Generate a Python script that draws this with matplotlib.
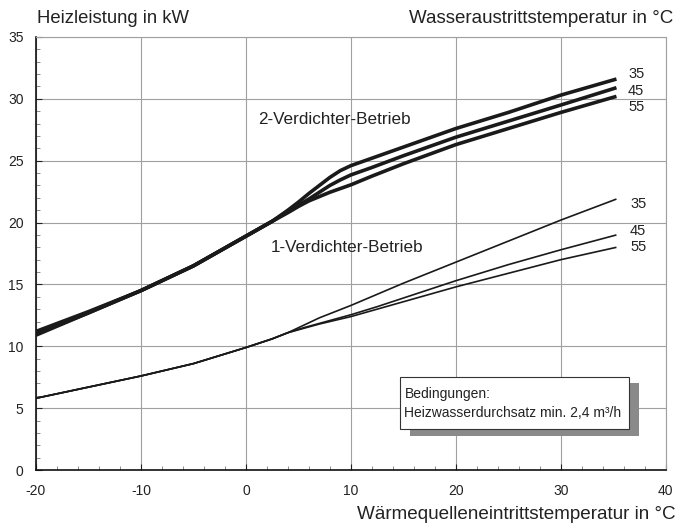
from matplotlib import pyplot as plt
from matplotlib.patches import Rectangle
from matplotlib.ticker import MultipleLocator

# Wasseraustrittstemperatur 35 / 45 / 55 °C
temps = ["35", "45", "55"]

# 2-Verdichter-Betrieb
x_two = [-20, -15, -10, -5, 0, 2.5, 4, 5, 6, 7, 8, 9, 10, 11, 12, 15, 20, 25, 30, 35.3]
two_35 = [11.2, 12.8, 14.5, 16.5, 18.9, 20.1, 21.0, 21.65, 22.35, 23.0, 23.65, 24.2, 24.6, 24.9, 25.2, 26.1, 27.6, 28.9, 30.3, 31.6]
two_45 = [11.0, 12.7, 14.5, 16.5, 18.9, 20.1, 20.9, 21.4, 21.9, 22.45, 23.0, 23.45, 23.85, 24.15, 24.45, 25.4, 26.9, 28.2, 29.5, 30.9]
two_55 = [10.9, 12.7, 14.5, 16.5, 18.9, 20.1, 20.8, 21.3, 21.75, 22.1, 22.45, 22.75, 23.05, 23.4, 23.75, 24.75, 26.3, 27.6, 28.9, 30.2]

# 1-Verdichter-Betrieb
x_one = [-20, -15, -10, -5, 0, 2.5, 4, 5.5, 7, 8.5, 10, 12.5, 15, 20, 25, 30, 35.3]
one_35 = [5.8, 6.7, 7.6, 8.6, 9.9, 10.6, 11.1, 11.7, 12.3, 12.8, 13.3, 14.2, 15.1, 16.8, 18.5, 20.2, 21.9]
one_45 = [5.8, 6.7, 7.6, 8.6, 9.9, 10.6, 11.1, 11.5, 11.85, 12.2, 12.55, 13.2, 13.9, 15.3, 16.6, 17.8, 19.0]
one_55 = [5.8, 6.7, 7.6, 8.6, 9.9, 10.6, 11.1, 11.45, 11.8, 12.1, 12.4, 13.0, 13.6, 14.8, 15.9, 17.0, 18.0]

plt.rcParams['font.family'] = ['Liberation Sans', 'DejaVu Sans']
plt.rcParams['axes.unicode_minus'] = False

fig = plt.figure(figsize=(6.78, 5.32), dpi=100)
ax = fig.add_axes([0.053, 0.1165, 0.929, 0.814])

for y in (two_35, two_45, two_55):
    ax.plot(x_two, y, color='#1a1a1a', lw=2.6, solid_capstyle='butt', solid_joinstyle='round', zorder=3)
for y in (one_35, one_45, one_55):
    ax.plot(x_one, y, color='#1a1a1a', lw=1.2, solid_capstyle='butt', solid_joinstyle='round', zorder=3)

ax.set_xlim(-20, 40)
ax.set_ylim(0, 35)
ax.xaxis.set_major_locator(MultipleLocator(10))
ax.xaxis.set_minor_locator(MultipleLocator(2))
ax.yaxis.set_major_locator(MultipleLocator(5))
ax.yaxis.set_minor_locator(MultipleLocator(1))
ax.tick_params(which='both', direction='in', labelsize=10, colors='#222222')
ax.tick_params(which='major', length=4)
ax.tick_params(which='minor', length=3, color='#777777')
ax.tick_params(axis='x', pad=10)
ax.tick_params(axis='y', pad=9)
ax.grid(True, which='major', color='#a0a0a0', lw=0.8, zorder=0)
ax.spines['top'].set_color('#a0a0a0')
ax.spines['right'].set_color('#a0a0a0')
ax.spines['left'].set_color('#111111')
ax.spines['bottom'].set_color('#111111')
ax.spines['left'].set_linewidth(1.2)
ax.spines['bottom'].set_linewidth(1.2)

# Kurvenbeschriftungen
for t, yl in zip(temps, [32.0, 30.6, 29.3]):
    ax.text(36.4, yl, t, fontsize=10.5, va='center', color='#222222')
for t, yl in zip(temps, [21.5, 19.3, 18.0]):
    ax.text(36.6, yl, t, fontsize=10.5, va='center', color='#222222')

ax.text(1.2, 28.3, "2-Verdichter-Betrieb", fontsize=12.3, va='center', color='#222222')
ax.text(2.4, 18.0, "1-Verdichter-Betrieb", fontsize=12.3, va='center', color='#222222')

# Kasten mit Schatten
ax.add_patch(Rectangle((15.6, 2.75), 21.8, 4.3, facecolor='#8a8a8a', edgecolor='none', zorder=4))
ax.add_patch(Rectangle((14.7, 3.3), 21.8, 4.2, facecolor='white', edgecolor='#333333', lw=0.8, zorder=5))
ax.text(15.1, 6.15, "Bedingungen:", fontsize=10, va='center', color='#222222', zorder=6)
ax.text(15.1, 4.6, "Heizwasserdurchsatz min. 2,4 m³/h", fontsize=10, va='center', color='#222222', zorder=6)

fig.text(0.054, 0.965, "Heizleistung in kW", fontsize=13.3, va='center', ha='left', color='#222222')
fig.text(0.993, 0.965, "Wasseraustrittstemperatur in °C", fontsize=13.5, va='center', ha='right', color='#222222')
fig.text(0.996, 0.032, "Wärmequelleneintrittstemperatur in °C", fontsize=13.6, va='center', ha='right', color='#222222')

plt.savefig("out.png")
